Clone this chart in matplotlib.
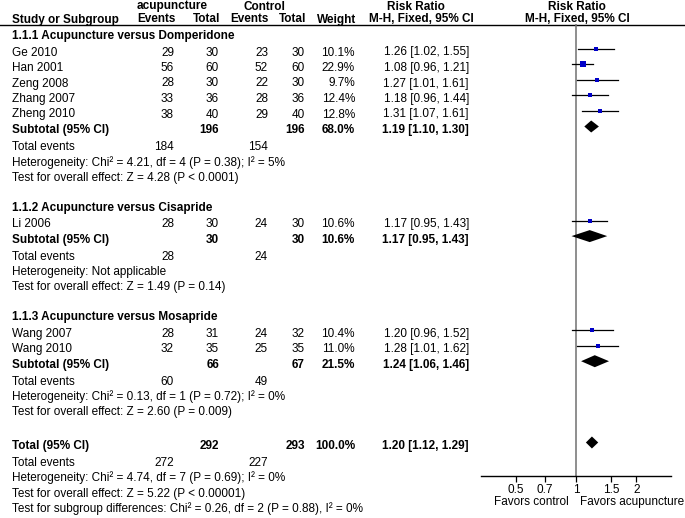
import numpy as np
import matplotlib
matplotlib.use("Agg")
import matplotlib.pyplot as plt

plt.rcParams['font.family'] = ['Liberation Sans', 'DejaVu Sans']
FS = 8.5

# Study-level data
studies = ['Ge 2010', 'Han 2001', 'Zeng 2008', 'Zhang 2007', 'Zheng 2010',
           'Li 2006', 'Wang 2007', 'Wang 2010']
group = [0, 0, 0, 0, 0, 1, 2, 2]
acu_events = [29, 56, 28, 33, 38, 28, 28, 32]
acu_total = [30, 60, 30, 36, 40, 30, 31, 35]
ctl_events = [23, 52, 22, 28, 29, 24, 24, 25]
ctl_total = [30, 60, 30, 36, 40, 30, 32, 35]
weights = [10.1, 22.9, 9.7, 12.4, 12.8, 10.6, 10.4, 11.0]
rr = [1.26, 1.08, 1.27, 1.18, 1.31, 1.17, 1.20, 1.28]
rr_lo = [1.02, 0.96, 1.01, 0.96, 1.07, 0.95, 0.96, 1.01]
rr_hi = [1.55, 1.21, 1.61, 1.44, 1.61, 1.43, 1.52, 1.62]

# Subgroup data
sub_names = ['1.1.1 Acupuncture versus Domperidone',
             '1.1.2 Acupuncture versus Cisapride',
             '1.1.3 Acupuncture versus Mosapride']
sub_acu_total = [196, 30, 66]
sub_ctl_total = [196, 30, 67]
sub_acu_events = [184, 28, 60]
sub_ctl_events = [154, 24, 49]
sub_weight = [68.0, 10.6, 21.5]
sub_rr = [1.19, 1.17, 1.24]
sub_lo = [1.10, 0.95, 1.06]
sub_hi = [1.30, 1.43, 1.46]
sub_het = ['Heterogeneity: Chi² = 4.21, df = 4 (P = 0.38); I² = 5%',
           'Heterogeneity: Not applicable',
           'Heterogeneity: Chi² = 0.13, df = 1 (P = 0.72); I² = 0%']
sub_test = ['Test for overall effect: Z = 4.28 (P < 0.0001)',
            'Test for overall effect: Z = 1.49 (P = 0.14)',
            'Test for overall effect: Z = 2.60 (P = 0.009)']

# Overall
tot_acu_total, tot_ctl_total = 292, 293
tot_acu_events, tot_ctl_events = 272, 227
tot_weight = 100.0
tot_rr, tot_lo, tot_hi = 1.20, 1.12, 1.29
tot_het = 'Heterogeneity: Chi² = 4.74, df = 7 (P = 0.69); I² = 0%'
tot_test = 'Test for overall effect: Z = 5.22 (P < 0.00001)'
sub_diff = 'Test for subgroup differences: Chi² = 0.26, df = 2 (P = 0.88), I² = 0%'

ticks = [0.5, 0.7, 1, 1.5, 2]

# layout (pixel coordinates)
W, H = 685, 518
X_NAME, X_AE, X_AT, X_CE, X_CT, X_W, X_CI = 12, 174, 219, 268, 305, 355, 469
AX_L, AX_R, AX_TOP, AX_BOT = 481, 671, 24, 476
OFF = 3.5  # marks sit slightly above the text centre

fig = plt.figure(figsize=(W / 100, H / 100), dpi=100)
ax = fig.add_axes([0, 0, 1, 1])
ax.set_xlim(0, W)
ax.set_ylim(H, 0)
ax.axis('off')

fx = fig.add_axes([AX_L / W, (H - AX_BOT) / H, (AX_R - AX_L) / W, (AX_BOT - AX_TOP) / H])
fx.patch.set_alpha(0)
fx.set_xscale('log')
fx.set_xlim(1 / 2.97, 2.97)
fx.set_ylim(AX_BOT, AX_TOP)
for s in ['top', 'left', 'right']:
    fx.spines[s].set_visible(False)
fx.spines['bottom'].set_linewidth(1.0)
fx.set_yticks([])
fx.set_xticks(ticks)
fx.set_xticklabels([f'{t:g}' for t in ticks])
fx.minorticks_off()
fx.tick_params(axis='x', direction='out', length=4.5, width=0.9, pad=1.5, labelsize=FS)
fx.axvline(1, color='#707070', lw=1.1, zorder=1)


def txt(x, y, s, ha='left', bold=False):
    ax.text(x, y, s, ha=ha, va='center', fontsize=FS,
            fontweight='bold' if bold else 'normal')


def diamond(y, est, lo, hi):
    h = 6
    fx.fill([lo, est, hi, est], [y, y - h, y, y + h], color='black', lw=0, zorder=3)


# headers
txt(172, 6.5, 'acupuncture', ha='center', bold=True)
txt(264, 6.5, 'Control', ha='center', bold=True)
txt(416, 6.5, 'Risk Ratio', ha='center', bold=True)
txt(577, 6.5, 'Risk Ratio', ha='center', bold=True)
txt(X_NAME, 19.5, 'Study or Subgroup', bold=True)
txt(176, 19.5, 'Events', ha='right', bold=True)
txt(220, 19.5, 'Total', ha='right', bold=True)
txt(269, 19.5, 'Events', ha='right', bold=True)
txt(306, 19.5, 'Total', ha='right', bold=True)
txt(356, 19.5, 'Weight', ha='right', bold=True)
txt(421, 19.5, 'M-H, Fixed, 95% CI', ha='center', bold=True)
txt(577, 19.5, 'M-H, Fixed, 95% CI', ha='center', bold=True)
ax.plot([0, W], [24.5, 24.5], color='black', lw=1.0)

y = 36
for g in range(3):
    txt(X_NAME, y, sub_names[g], bold=True)
    y += 16.5
    for i in [k for k in range(len(studies)) if group[k] == g]:
        txt(X_NAME, y, studies[i])
        txt(X_AE, y, str(acu_events[i]), ha='right')
        txt(X_AT, y, str(acu_total[i]), ha='right')
        txt(X_CE, y, str(ctl_events[i]), ha='right')
        txt(X_CT, y, str(ctl_total[i]), ha='right')
        txt(X_W, y, f'{weights[i]:.1f}%', ha='right')
        txt(X_CI, y, f'{rr[i]:.2f} [{rr_lo[i]:.2f}, {rr_hi[i]:.2f}]', ha='right')
        fx.plot([rr_lo[i], rr_hi[i]], [y - OFF, y - OFF], color='black', lw=0.9, zorder=2)
        fx.plot(rr[i], y - OFF, marker='s', color='#0000c8', lw=0, mew=0,
                markersize=0.8 * np.sqrt(weights[i]), zorder=3)
        y += 15.5
    txt(X_NAME, y, 'Subtotal (95% CI)', bold=True)
    txt(X_AT, y, str(sub_acu_total[g]), ha='right', bold=True)
    txt(X_CT, y, str(sub_ctl_total[g]), ha='right', bold=True)
    txt(X_W, y, f'{sub_weight[g]:.1f}%', ha='right', bold=True)
    txt(X_CI, y, f'{sub_rr[g]:.2f} [{sub_lo[g]:.2f}, {sub_hi[g]:.2f}]', ha='right', bold=True)
    diamond(y - OFF, sub_rr[g], sub_lo[g], sub_hi[g])
    y += 17
    txt(X_NAME, y, 'Total events')
    txt(X_AE, y, str(sub_acu_events[g]), ha='right')
    txt(X_CE, y, str(sub_ctl_events[g]), ha='right')
    y += 15.3
    txt(X_NAME, y, sub_het[g])
    y += 15.3
    txt(X_NAME, y, sub_test[g])
    y += 30

y = 446
txt(X_NAME, y, 'Total (95% CI)', bold=True)
txt(X_AT, y, str(tot_acu_total), ha='right', bold=True)
txt(X_CT, y, str(tot_ctl_total), ha='right', bold=True)
txt(X_W, y, f'{tot_weight:.1f}%', ha='right', bold=True)
txt(X_CI, y, f'{tot_rr:.2f} [{tot_lo:.2f}, {tot_hi:.2f}]', ha='right', bold=True)
diamond(y - OFF, tot_rr, tot_lo, tot_hi)
y += 16.5
txt(X_NAME, y, 'Total events')
txt(X_AE, y, str(tot_acu_events), ha='right')
txt(X_CE, y, str(tot_ctl_events), ha='right')
y += 15.5
txt(X_NAME, y, tot_het)
y += 15.5
txt(X_NAME, y, tot_test)
y += 15.5
txt(X_NAME, y, sub_diff)

txt(569, 502, 'Favors control', ha='right')
txt(580, 502, 'Favors acupuncture')

fig.savefig('out.png', dpi=100)
